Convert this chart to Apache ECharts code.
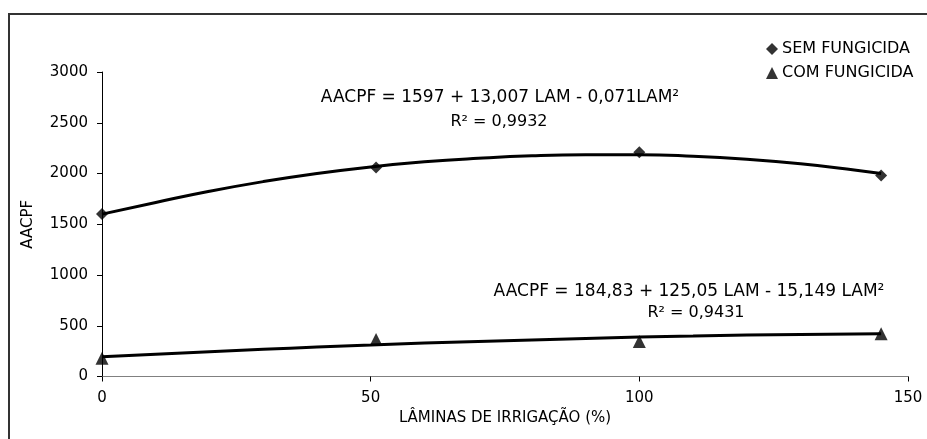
<!DOCTYPE html>
<html>
<head>
<meta charset="utf-8">
<script src="https://cdn.jsdelivr.net/npm/echarts@6/dist/echarts.min.js"></script>
<style>html,body{margin:0;padding:0;background:#fff}#c{width:927px;height:439px}</style>
</head>
<body>
<div id="c"></div>
<script>
// observed points
const semX = [0, 51, 100, 145];
const semY = [1600, 2060, 2210, 1980];
const comX = [0, 51, 100, 145];
const comY = [180, 365, 345, 420];
// fitted curves
const trendX = [0, 10, 20, 30, 40, 50, 60, 70, 80, 90, 100, 110, 120, 130, 140, 145];
const semTrend = [1600, 1715, 1825, 1920, 2000, 2065, 2115, 2150, 2175, 2185, 2185, 2170, 2140, 2095, 2035, 2000];
const comTrend = [195, 220, 245, 268, 290, 310, 330, 345, 360, 375, 388, 398, 408, 414, 418, 420];
const xTicks = [0, 50, 100, 150];
const yTicks = [0, 500, 1000, 1500, 2000, 2500, 3000];

const pair = (xs, ys) => xs.map((x, i) => [x, ys[i]]);
const font = '"DejaVu Sans", sans-serif';
const fs = 15;
const chart = echarts.init(document.getElementById('c'), null, {renderer: 'canvas'});
chart.setOption({
  animation: false,
  backgroundColor: '#fff',
  grid: {left: 102, right: 19, top: 72, bottom: 62.5, containLabel: false},
  xAxis: {
    type: 'value', min: xTicks[0], max: xTicks[xTicks.length - 1], interval: 50,
    name: 'LÂMINAS DE IRRIGAÇÃO (%)', nameLocation: 'middle', nameGap: 29,
    nameTextStyle: {fontFamily: font, fontSize: fs, color: '#000'},
    axisLine: {lineStyle: {color: '#808080', width: 1}},
    axisTick: {show: true, length: 5, lineStyle: {color: '#000'}},
    axisLabel: {fontFamily: font, fontSize: fs, color: '#000', margin: 14},
    splitLine: {show: false}
  },
  yAxis: {
    type: 'value', min: yTicks[0], max: yTicks[yTicks.length - 1], interval: 500,
    name: 'AACPF', nameLocation: 'middle', nameGap: 66, nameRotate: 90,
    nameTextStyle: {fontFamily: font, fontSize: fs, color: '#000'},
    axisLine: {show: true, lineStyle: {color: '#000', width: 1}},
    axisTick: {show: true, length: 5, lineStyle: {color: '#000'}},
    axisLabel: {fontFamily: font, fontSize: fs, color: '#000', margin: 14, formatter: v => String(v)},
    splitLine: {show: false}
  },
  legend: {
    orient: 'vertical', left: 761, top: 36, itemGap: 8,
    itemWidth: 12, itemHeight: 12, itemStyle: {borderWidth: 0},
    textStyle: {fontFamily: font, fontSize: 16, color: '#000', padding: [0, 0, 0, -1]},
    data: [{name: 'SEM FUNGICIDA', icon: 'diamond'}, {name: 'COM FUNGICIDA', icon: 'triangle'}]
  },
  graphic: [
    {type: 'rect', shape: {x: 9, y: 14, width: 960, height: 460}, style: {fill: 'none', stroke: '#333', lineWidth: 2}, silent: true},
    {type: 'text', style: {text: 'AACPF = 1597 + 13,007 LAM - 0,071LAM²', x: 500, y: 98, align: 'center', verticalAlign: 'middle', font: '17px ' + font, fill: '#000'}},
    {type: 'text', style: {text: 'R² = 0,9932', x: 499, y: 122, align: 'center', verticalAlign: 'middle', font: '16px ' + font, fill: '#000'}},
    {type: 'text', style: {text: 'AACPF = 184,83 + 125,05 LAM - 15,149 LAM²', x: 689, y: 292, align: 'center', verticalAlign: 'middle', font: '17px ' + font, fill: '#000'}},
    {type: 'text', style: {text: 'R² = 0,9431', x: 696, y: 313, align: 'center', verticalAlign: 'middle', font: '16px ' + font, fill: '#000'}}
  ],
  series: [
    {name: 'trendSem', type: 'line', data: pair(trendX, semTrend), smooth: true, showSymbol: false, lineStyle: {color: '#000', width: 3}, z: 2},
    {name: 'trendCom', type: 'line', data: pair(trendX, comTrend), smooth: true, showSymbol: false, lineStyle: {color: '#000', width: 3}, z: 2},
    {name: 'SEM FUNGICIDA', type: 'scatter', data: pair(semX, semY), symbol: 'diamond', symbolSize: 12, itemStyle: {color: '#000'}, z: 3},
    {name: 'COM FUNGICIDA', type: 'scatter', data: pair(comX, comY), symbol: 'triangle', symbolSize: 13, itemStyle: {color: '#000'}, z: 3}
  ]
});
</script>
</body>
</html>
